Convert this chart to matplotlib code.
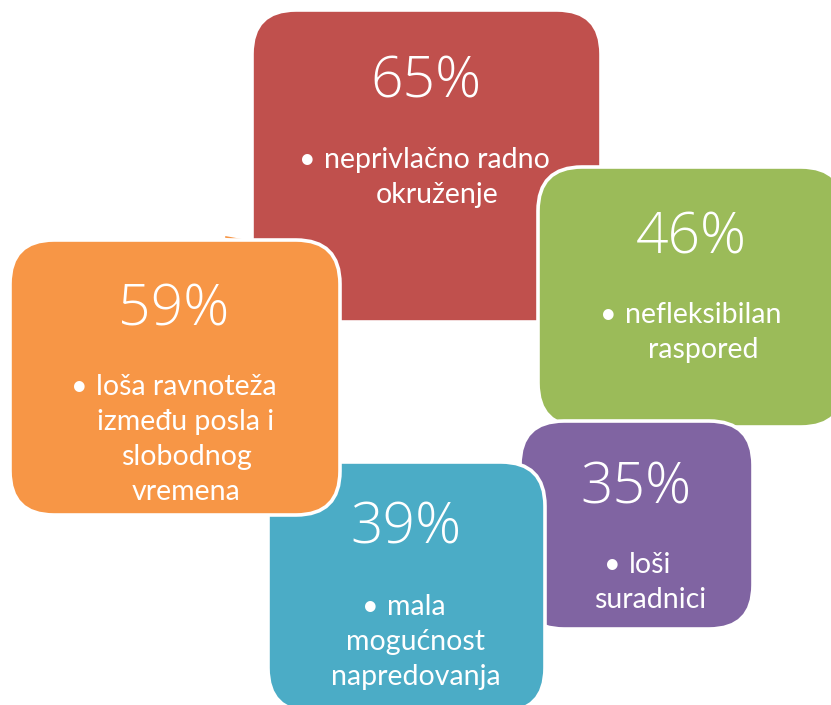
import matplotlib.pyplot as plt
from matplotlib.patches import FancyBboxPatch

plt.rcParams['font.family'] = ['Lato', 'DejaVu Sans']

# values
percents = ["65%", "46%", "35%", "39%", "59%"]
reasons = [
    ["neprivlačno radno", "okruženje"],
    ["nefleksibilan", "raspored"],
    ["loši", "suradnici"],
    ["mala", "mogućnost", "napredovanja"],
    ["loša ravnoteža", "između posla i", "slobodnog", "vremena"],
]
colors = ["#C0504D", "#9BBB59", "#8064A2", "#4BACC6", "#F79646"]

# box layout in pixels (x0, y0, x1, y1), drawn back to front
boxes = [
    (252, 10, 601, 322),
    (538, 167, 845, 427),
    (520, 421, 753, 629),
    (268, 462, 545, 712),
    (10, 240, 340, 515),
]
pct_pos = [(426, 97), (691, 253), (636, 503), (406, 543), (174, 326)]
txt_pos = [(437, 168), (703, 323), (650, 573), (416, 615), (186, 395)]
line_gap = 35

fig = plt.figure(figsize=(8.31, 7.05), dpi=100)
ax = fig.add_axes([0, 0, 1, 1])
ax.set_xlim(0, 831)
ax.set_ylim(705, 0)
ax.set_aspect('equal')
ax.axis('off')

# little stray stroke left of the orange box
ax.plot([226, 248], [237, 241], color=colors[4], lw=1.2, zorder=1)

fig.canvas.draw()
renderer = fig.canvas.get_renderer()

for i, (x0, y0, x1, y1) in enumerate(boxes):
    z = 2 + i * 2
    box = FancyBboxPatch((x0, y0), x1 - x0, y1 - y0,
                         boxstyle="round,pad=0,rounding_size=44",
                         fc=colors[i], ec="white", lw=2.6, zorder=z)
    ax.add_patch(box)
    px, py = pct_pos[i]
    ax.text(px, py, percents[i], color="white", fontsize=41,
            family=["Open Sans", "DejaVu Sans"], fontweight=300,
            ha="center", va="baseline", zorder=z + 1)
    tx, ty = txt_pos[i]
    for j, line in enumerate(reasons[i]):
        t = ax.text(tx, ty + j * line_gap, line, color="white", fontsize=20.5,
                    ha="center", va="baseline", zorder=z + 1)
        if j == 0:
            bb = t.get_window_extent(renderer).transformed(ax.transData.inverted())
            left = min(bb.x0, bb.x1)
            ax.text(left - 8, ty, "•", color="white", fontsize=20.5,
                    ha="right", va="baseline", zorder=z + 1)

fig.savefig("out.png", dpi=100)
